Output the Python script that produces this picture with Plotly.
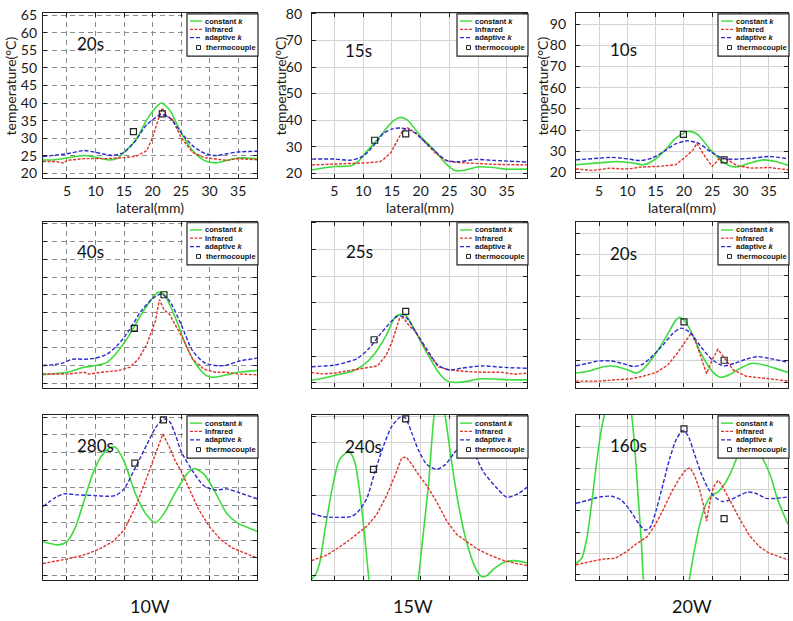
import plotly.graph_objects as go

W, H = 793, 621

# ---------------- data (lateral position mm, temperature degC) ----------------
# 10W, 20s
w10_t20_const_x = [0.8, 3, 5, 8, 10, 12.5, 14, 15, 17, 19, 21, 21.6, 23, 25, 27, 29, 31, 33, 35, 38.3]
w10_t20_const_y = [23.8, 23.9, 24.4, 25.1, 24.6, 23.8, 24.4, 26, 29.3, 35.3, 39.5, 40, 38, 31.6, 26.5, 23.7, 23, 23.7, 24.4, 24.2]
w10_t20_ir_x = [0.8, 3, 4.5, 5, 8, 12, 15, 17, 19, 20, 21, 21.7, 22.5, 23.5, 25, 27, 29, 31, 33, 35, 38.3]
w10_t20_ir_y = [23.4, 23.4, 22.9, 23.7, 24.2, 24.2, 24.5, 24.8, 26.5, 30.2, 35.3, 38.6, 36.2, 35.3, 30.2, 26, 24.5, 24.2, 23.7, 24.2, 23.9]
w10_t20_adapt_x = [0.8, 5, 8, 10, 13, 15, 17, 19, 21.5, 23, 25, 27, 29, 31, 33, 35, 38.3]
w10_t20_adapt_y = [24.8, 25.6, 26.5, 26, 25.1, 26, 29.3, 33.9, 36.7, 35.8, 31.6, 27.9, 25.8, 25.1, 25.6, 26.1, 26.3]
w10_t20_tc_x = [16.65, 21.7]
w10_t20_tc_y = [31.9, 36.9]

# 15W, 15s
w15_t15_const_x = [1.1, 5, 7.9, 9.3, 10.7, 12.2, 13.6, 15.1, 16.4, 17.7, 19.1, 20, 22.5, 24.5, 26.1, 27.6, 30.1, 32.7, 34.7, 38.5]
w15_t15_const_y = [21.2, 22.5, 22.8, 24.7, 28.4, 32, 35.7, 39.4, 41, 40, 36.4, 33.9, 28.3, 23.3, 20.9, 21.1, 22.4, 22.1, 21.5, 21.5]
w15_t15_ir_x = [1.1, 5, 7.9, 10.7, 12.9, 13.6, 14.8, 15.9, 16.8, 17.6, 18.3, 19.1, 20, 22.5, 24.5, 26.6, 29.6, 32.7, 38.5]
w15_t15_ir_y = [23.1, 23.4, 23.8, 23.9, 24.3, 25.3, 27.7, 32, 35.7, 37.2, 36.4, 35.1, 33.3, 27.7, 24.6, 24, 23.6, 23.3, 23.1]
w15_t15_adapt_x = [1.1, 5, 7.9, 9.5, 10.7, 12.2, 13.6, 15.1, 16.5, 17.9, 19.1, 20, 22.5, 24.5, 26.6, 29.6, 32.7, 38.5]
w15_t15_adapt_y = [25.3, 25.3, 24.9, 25.9, 27.7, 31.4, 35.1, 36.7, 37, 36.4, 35.1, 33.3, 28.3, 24.8, 24.3, 25.2, 24.8, 24.2]
w15_t15_tc_x = [12.0, 17.4]
w15_t15_tc_y = [32.4, 34.8]

# 20W, 10s
w20_t10_const_x = [0.9, 6, 8.1, 11.2, 12.8, 14.3, 16.4, 18.5, 20.6, 21.6, 22.6, 24.7, 26.8, 28.4, 29.9, 32, 34.1, 36.2, 38.4]
w20_t10_const_y = [23.6, 24.7, 25.1, 24.3, 23.6, 25.1, 29.8, 36, 39.3, 39.0, 37.5, 30.6, 25.1, 22.8, 22.8, 24.7, 25.9, 25.1, 23.3]
w20_t10_ir_x = [0.9, 3.9, 7, 9.1, 10.7, 12.2, 15.4, 18.5, 20, 21.6, 22.3, 23.7, 25, 26.3, 27.8, 29.4, 32, 35.1, 38.4]
w20_t10_ir_y = [21.6, 20.9, 22, 21.6, 21.8, 22.5, 22.8, 23.6, 26.7, 30.6, 33.7, 27.5, 22.8, 26.7, 25.9, 23.1, 22, 22.3, 21.2]
w20_t10_adapt_x = [0.9, 5, 7, 9.1, 12.2, 14.3, 16.4, 18.5, 20.6, 22.6, 24.7, 26.8, 28.9, 32, 35.1, 38.4]
w20_t10_adapt_y = [25.9, 26.7, 27.1, 26.7, 25.6, 26.7, 29.8, 33.4, 34.9, 33.7, 29.8, 26.7, 26.2, 26.7, 27.5, 26.4]
w20_t10_tc_x = [19.9, 27.1]
w20_t10_tc_y = [37.9, 25.9]

# 10W, 40s
w10_t40_const_x = [0.8, 5, 8, 10, 12, 14, 16, 18, 20, 21, 22, 24, 26, 28, 29.5, 31, 33, 35, 38.3]
w10_t40_const_y = [22.4, 23.1, 24.5, 25, 25.9, 29.2, 33.8, 39.4, 44.1, 45.7, 45.2, 38.5, 30.1, 24.5, 22.1, 21.7, 22.4, 23.1, 23.6]
w10_t40_ir_x = [0.8, 5, 8, 9, 11, 14, 16, 17.5, 19, 20.5, 21.2, 22, 23, 24, 25.5, 27, 29, 31, 33, 35, 38.3]
w10_t40_ir_y = [22.6, 22.6, 23.1, 22.6, 23.1, 23.6, 24.5, 26.8, 31, 37.6, 43.6, 40.8, 39.4, 36.6, 32, 26.8, 24, 23.1, 23.1, 22.6, 22.4]
w10_t40_adapt_x = [0.8, 4, 6, 8, 10, 12, 14, 16, 18, 20, 21.5, 23, 25, 27, 29, 31, 33, 35, 38.3]
w10_t40_adapt_y = [25, 25.6, 26.8, 26.8, 27.1, 28.2, 31, 35.2, 40.4, 43.9, 45.2, 43.2, 36.6, 29.2, 25.9, 25, 25.1, 26.2, 27.1]
w10_t40_tc_x = [16.8, 22.0]
w10_t40_tc_y = [35.5, 45.0]

# 15W, 25s
w15_t25_const_x = [1.0, 3, 5, 8, 10, 12, 14, 15.5, 16.5, 17.5, 19, 21, 23, 24.5, 26, 28, 30, 33, 35, 38.5]
w15_t25_const_y = [21, 21.8, 22.8, 24.3, 26.7, 31, 37.8, 44.5, 45.7, 45.1, 39.6, 31.6, 24.3, 20.9, 20.2, 20.6, 21.5, 21.5, 21.2, 21.2]
w15_t25_ir_x = [1.0, 3, 5, 8, 10, 12.5, 14, 15, 16.3, 17, 18, 19, 21, 23, 25, 28, 31, 34, 36.5, 38.5]
w15_t25_ir_y = [23.9, 23.4, 23.7, 24.9, 25.5, 26.4, 30.4, 35.3, 44.1, 44.5, 41.4, 39.6, 32.3, 26.1, 24.9, 24.3, 24, 24, 23.3, 23.7]
w15_t25_adapt_x = [1.0, 5, 7, 9, 11, 13, 15, 16, 17.5, 19, 21, 23, 25, 27, 29, 31, 34, 38.5]
w15_t25_adapt_y = [26.1, 26.7, 27.7, 29.2, 32.9, 38.4, 43.3, 45.1, 44.5, 39.6, 32.9, 26.7, 24.9, 25.5, 26.1, 26.4, 25.9, 25.5]
w15_t25_tc_x = [11.9, 17.4]
w15_t25_tc_y = [36.2, 46.8]

# 20W, 20s
w20_t20_const_x = [0.9, 3, 6, 8, 10, 11.5, 13, 15, 17, 18.5, 19.2, 20, 21, 23, 25, 26.5, 28, 30, 32, 34, 36, 38.4]
w20_t20_const_y = [24.3, 25.1, 27.4, 27.4, 25.8, 24.3, 26.6, 33.5, 42, 48.9, 50.5, 49.2, 45.1, 33.5, 25.1, 22.3, 23.5, 26.6, 28.9, 28.2, 26.6, 24.6]
w20_t20_ir_x = [0.9, 5, 8.1, 10.4, 12.8, 15.1, 17.2, 19, 20.4, 21.3, 22.2, 23.1, 24, 25, 26, 27.2, 28.7, 31, 34, 36.3, 38.4]
w20_t20_ir_y = [20.5, 20.5, 21.2, 21.5, 22.8, 24.6, 28.2, 34.3, 39.7, 43.1, 38.1, 30.5, 24, 30.5, 35.4, 31.2, 25.8, 22.8, 21.7, 21.2, 20.5]
w20_t20_adapt_x = [0.9, 3, 5, 7, 9, 11, 12.5, 14, 16, 18, 19.5, 21, 23, 25, 27, 29, 31, 33, 35, 38.4]
w20_t20_adapt_y = [27.7, 28.9, 30, 30, 28.9, 27.4, 28.2, 31.2, 36.6, 42.8, 45.4, 43.5, 36.6, 30.5, 27.7, 28.9, 30.8, 32, 31.2, 29.4]
w20_t20_tc_x = [20.0, 27.1]
w20_t20_tc_y = [48.3, 30.3]

# 10W, 280s
w10_t280_const_x = [0.8, 3.5, 5, 6.5, 8, 9.5, 11, 12.5, 13.5, 15, 17, 19, 20.5, 22, 24, 26, 27.3, 29, 31, 33, 35, 38.3]
w10_t280_const_y = [29.6, 28.7, 29.6, 33.8, 41.3, 48.8, 53.9, 56.3, 56.4, 52.5, 43.2, 37.1, 35, 37.6, 43.6, 48.8, 50.4, 48.8, 43.6, 37.6, 34.8, 32.6]
w10_t280_ir_x = [0.8, 3, 5, 7, 9, 11, 13, 15, 17, 19, 20.5, 21.8, 23, 24, 25, 26.5, 28, 30, 32, 34, 36, 38.3]
w10_t280_ir_y = [23.4, 24, 24.7, 25.4, 26.4, 27.8, 29.6, 32.9, 39.4, 47.9, 54.4, 60.2, 56.3, 52.5, 49.7, 44.1, 39, 33.8, 30.1, 27.8, 26.4, 25]
w10_t280_adapt_x = [0.8, 3, 4.5, 7, 10, 12, 13.5, 15, 17, 19, 20.5, 22, 23, 24, 25, 27, 29, 31, 33, 35, 38.3]
w10_t280_adapt_y = [39.6, 42.2, 43.2, 42.9, 42.7, 42.5, 42.7, 44.6, 50.7, 57.2, 61.9, 64.5, 63.7, 60, 55.3, 49.7, 45.5, 44.3, 44.6, 43.6, 41.8]
w10_t280_tc_x = [16.9, 21.9]
w10_t280_tc_y = [51.9, 64.2]

# 15W, 240s
w15_t240_const_x = [1.0, 1.8, 2.4, 3.5, 4.7, 5.9, 7.5, 8.5, 9.4, 10.3, 11, 12, 14, 16, 18, 19.6, 20.5, 21.4, 22.3, 23.3, 24.3, 25.5, 26.6, 27.8, 29, 29.9, 30.7, 31.6, 32.8, 34.5, 36.3, 38.5]
w15_t240_const_y = [18.4, 20.6, 24.3, 39, 53.7, 63.6, 66.6, 63, 51.3, 34.1, 18.2, 0, -15, -20, -5, 18.8, 36.6, 55, 79.5, 92, 79.5, 61, 46.4, 34.1, 25.5, 21.2, 19.4, 20, 22.5, 24.9, 25.5, 24.7]
w15_t240_ir_x = [1.0, 3.5, 5.3, 7, 8.8, 10.6, 12.3, 14.1, 15.5, 16.7, 17.5, 18.5, 19.6, 21.1, 22.8, 24.6, 26.3, 28.1, 29.9, 32.2, 34.5, 36.9, 38.5]
w15_t240_ir_y = [25.5, 27.4, 29.8, 32.3, 35.3, 38.4, 42.7, 50.1, 57.4, 64.2, 64.5, 61.7, 58, 53.7, 47.6, 40.2, 35.3, 32.5, 29.8, 27.4, 25.5, 24.3, 23.7]
w15_t240_adapt_x = [1.0, 3, 5.3, 7.9, 9.1, 10.6, 12, 13.5, 14.9, 16.4, 17.3, 18.5, 19.6, 21.1, 22.8, 24.3, 25.8, 26.9, 28.2, 29.5, 31, 33.4, 35, 36.9, 38.5]
w15_t240_adapt_y = [43.3, 42.1, 41.8, 42.1, 43.9, 48.8, 58.7, 68.5, 75.8, 79.5, 79.3, 73.4, 67.2, 61.7, 59.9, 61.7, 66, 68.5, 69, 65, 58.7, 52.5, 49.4, 50.7, 53.1]
w15_t240_tc_x = [11.8, 17.4]
w15_t240_tc_y = [59.9, 78.9]

# 20W, 160s
w20_t160_const_x = [0.9, 1.9, 2.8, 3.6, 4.5, 5.4, 6, 7, 8.5, 10, 10.7, 11.3, 11.9, 12.5, 12.8, 14, 16, 18, 20, 21, 21.9, 22.8, 23.7, 24.9, 26, 27.2, 28.4, 29.6, 31.5, 33.7, 35.2, 36.6, 38.4]
w20_t160_const_y = [25.3, 27.6, 36.8, 52, 72, 88.7, 96, 105, 108, 104, 96, 79.5, 56.6, 33.7, 18.5, -5, -20, -15, 0, 18.5, 32.2, 43.7, 52, 57.4, 58.9, 62.7, 68.9, 76.5, 84, 75.7, 67.3, 55.1, 43.7]
w20_t160_ir_x = [0.9, 3.4, 5.7, 7.8, 9.8, 11.6, 13.4, 14.8, 16.3, 17.8, 19.3, 20.4, 21.1, 21.9, 22.8, 23.5, 24, 24.6, 25.2, 26, 26.6, 28.1, 29.9, 31.6, 33.4, 35.2, 36.9, 38.4]
w20_t160_ir_y = [24.6, 26.1, 27.3, 27.6, 30.7, 34.5, 37.6, 42.9, 50.5, 58.9, 65.8, 69.6, 70.4, 66.6, 59.7, 52.1, 45.2, 54.4, 61.2, 64.3, 62.7, 55.1, 46, 38.3, 33, 29.9, 28.4, 26.9]
w20_t160_adapt_x = [0.9, 3.1, 5.1, 7.2, 8.9, 10.4, 11.9, 13.1, 14, 15.1, 16.3, 17.5, 18.7, 19.8, 20.7, 21.9, 23.1, 24.3, 25.4, 26.9, 28.1, 29.9, 31.3, 32.8, 34.6, 36.3, 38.4]
w20_t160_adapt_y = [53.6, 55.1, 56.6, 56.9, 55.1, 50.5, 44.4, 40.9, 42.1, 50.5, 62.7, 75, 84.1, 87.9, 85.6, 76.5, 67.3, 60.5, 56.6, 54.4, 55.1, 57.4, 58.9, 58.2, 55.9, 55.9, 56.6]
w20_t160_tc_x = [20.0, 27.1]
w20_t160_tc_y = [88.7, 46.4]

time_labels = ["20s", "15s", "10s", "40s", "25s", "20s", "280s", "240s", "160s"]
power_labels = ["10W", "15W", "20W"]
legend_labels = ["constant <i>k</i>", "Infrared", "adaptive <i>k</i>", "thermocouple"]
x_ticks = [5, 10, 15, 20, 25, 30, 35]
y_ticks_cols = [[20, 25, 30, 35, 40, 45, 50, 55, 60, 65],
                [20, 30, 40, 50, 60, 70, 80],
                [20, 30, 40, 50, 60, 70, 80, 90]]

panels = [
    (w10_t20_const_x, w10_t20_const_y, w10_t20_ir_x, w10_t20_ir_y, w10_t20_adapt_x, w10_t20_adapt_y, w10_t20_tc_x, w10_t20_tc_y),
    (w15_t15_const_x, w15_t15_const_y, w15_t15_ir_x, w15_t15_ir_y, w15_t15_adapt_x, w15_t15_adapt_y, w15_t15_tc_x, w15_t15_tc_y),
    (w20_t10_const_x, w20_t10_const_y, w20_t10_ir_x, w20_t10_ir_y, w20_t10_adapt_x, w20_t10_adapt_y, w20_t10_tc_x, w20_t10_tc_y),
    (w10_t40_const_x, w10_t40_const_y, w10_t40_ir_x, w10_t40_ir_y, w10_t40_adapt_x, w10_t40_adapt_y, w10_t40_tc_x, w10_t40_tc_y),
    (w15_t25_const_x, w15_t25_const_y, w15_t25_ir_x, w15_t25_ir_y, w15_t25_adapt_x, w15_t25_adapt_y, w15_t25_tc_x, w15_t25_tc_y),
    (w20_t20_const_x, w20_t20_const_y, w20_t20_ir_x, w20_t20_ir_y, w20_t20_adapt_x, w20_t20_adapt_y, w20_t20_tc_x, w20_t20_tc_y),
    (w10_t280_const_x, w10_t280_const_y, w10_t280_ir_x, w10_t280_ir_y, w10_t280_adapt_x, w10_t280_adapt_y, w10_t280_tc_x, w10_t280_tc_y),
    (w15_t240_const_x, w15_t240_const_y, w15_t240_ir_x, w15_t240_ir_y, w15_t240_adapt_x, w15_t240_adapt_y, w15_t240_tc_x, w15_t240_tc_y),
    (w20_t160_const_x, w20_t160_const_y, w20_t160_ir_x, w20_t160_ir_y, w20_t160_adapt_x, w20_t160_adapt_y, w20_t160_tc_x, w20_t160_tc_y),
]

# ---------------- layout constants (pixels) ----------------
COL_PX = [(43, 257), (312, 527), (576, 788)]
ROW_PX = [(5, 173), (218, 387), (415, 583)]
X_RANGES = [[0.8, 38.3], [1.1, 38.5], [0.9, 38.4]]
Y_RANGES = [[18.8, 65.6], [18.3, 80.4], [17.5, 95.3]]
TIME_POS = [(75, 36), (343, 43), (608, 42), (75, 248), (344, 248), (608, 250), (75, 446), (343, 447), (608, 446)]
POWER_POS = [(150, 610), (413, 610), (692, 610)]
YTITLE_X = [10, 280, 542]

GREEN = "#3ddc3d"
RED = "#e0342c"
BLUE = "#2a2ad0"
FRAME = "#222222"
FONT = "Lato, 'Open Sans', sans-serif"


def px(x):
    return x / W


def py(y):
    return 1 - y / H


fig = go.Figure()
layout = dict(width=W, height=H, margin=dict(l=0, r=0, t=0, b=0),
              paper_bgcolor="white", plot_bgcolor="white", showlegend=False)
shapes = []
annotations = []

for k, data in enumerate(panels):
    r, c = divmod(k, 3)
    idx = k + 1
    xname = "xaxis" if idx == 1 else f"xaxis{idx}"
    yname = "yaxis" if idx == 1 else f"yaxis{idx}"
    xref = "x" if idx == 1 else f"x{idx}"
    yref = "y" if idx == 1 else f"y{idx}"
    gx, gy, rx, ry, bx, by, tx, ty = data

    fig.add_trace(go.Scatter(x=gx, y=gy, mode="lines", xaxis=xref, yaxis=yref,
                             line=dict(color=GREEN, width=1.6, shape="spline", smoothing=0.7)))
    fig.add_trace(go.Scatter(x=rx, y=ry, mode="lines", xaxis=xref, yaxis=yref,
                             line=dict(color=RED, width=1.4, dash="3px,1.5px")))
    fig.add_trace(go.Scatter(x=bx, y=by, mode="lines", xaxis=xref, yaxis=yref,
                             line=dict(color=BLUE, width=1.4, dash="4px,2px", shape="spline", smoothing=0.7)))
    fig.add_trace(go.Scatter(x=tx, y=ty, mode="markers", xaxis=xref, yaxis=yref, cliponaxis=False,
                             marker=dict(symbol="square-open", size=6, color=FRAME, line=dict(width=1.2, color=FRAME))))

    c0, c1 = COL_PX[c]
    r0, r1 = ROW_PX[r]
    if c == 0:
        grid = dict(gridcolor="#8c8c8c", griddash="5px,4px", gridwidth=0.8)
    else:
        grid = dict(gridcolor="#d4d4d4", griddash="solid", gridwidth=1)
    common = dict(showline=True, linecolor=FRAME, linewidth=1.3, mirror="ticks",
                  ticks="inside", ticklen=4, tickcolor=FRAME, showgrid=True, zeroline=False,
                  ticklabeloverflow="allow",
                  tickfont=dict(family=FONT, size=14, color="#1a1a1a"), **grid)
    layout[xname] = dict(domain=[px(c0), px(c1)], range=X_RANGES[c], tickvals=x_ticks,
                         showticklabels=(r == 0), anchor=yref, ticklabelstandoff=0, **common)
    layout[yname] = dict(domain=[py(r1), py(r0)], range=Y_RANGES[c], tickvals=y_ticks_cols[c],
                         showticklabels=(r == 0), anchor=xref, ticklabelstandoff=2 if c == 0 else 6, **common)

    # time label
    tx0, ty0 = TIME_POS[k]
    annotations.append(dict(x=px(tx0), y=py(ty0), xref="paper", yref="paper", text=time_labels[k],
                            showarrow=False, xanchor="left", yanchor="middle",
                            font=dict(family=FONT, size=17, color="#111")))

    # legend box (decoration)
    right = c1 + 1
    top = r0 + 1
    left = right - 71
    bottom = top + 43
    shapes.append(dict(type="rect", xref="paper", yref="paper", x0=px(left), x1=px(right),
                       y0=py(bottom), y1=py(top), line=dict(color=FRAME, width=1.2),
                       fillcolor="white", layer="above"))
    offs = [7.3, 15.7, 24.3, 34.3]
    styles = [(GREEN, "solid", 1.4), (RED, "3px,1.5px", 1.3), (BLUE, "4px,2px", 1.3)]
    for i in range(3):
        col, dash, wd = styles[i]
        yy = top + offs[i]
        shapes.append(dict(type="line", xref="paper", yref="paper", x0=px(left + 3), x1=px(left + 15),
                           y0=py(yy), y1=py(yy), line=dict(color=col, width=wd, dash=dash), layer="above"))
    yy = top + offs[3]
    shapes.append(dict(type="rect", xref="paper", yref="paper", x0=px(left + 9.5), x1=px(left + 13.5),
                       y0=py(yy + 2), y1=py(yy - 2), line=dict(color=FRAME, width=1), layer="above"))
    for i in range(4):
        xx = left + (15.5 if i < 3 else 16.5)
        annotations.append(dict(x=px(xx), y=py(top + offs[i]), xref="paper", yref="paper",
                                text=f"<b>{legend_labels[i]}</b>", showarrow=False,
                                xanchor="left", yanchor="middle",
                                font=dict(family="Liberation Sans, Arial, sans-serif", size=7.5, color="#111")))

# axis titles
for c in range(3):
    c0, c1 = COL_PX[c]
    annotations.append(dict(x=px(YTITLE_X[c]), y=py(80), xref="paper", yref="paper",
                            text="temperature(\u00b0C)", textangle=-90, showarrow=False,
                            xanchor="center", yanchor="middle",
                            font=dict(family=FONT, size=14, color="#1a1a1a")))
    annotations.append(dict(x=px((c0 + c1) / 2), y=py(203), xref="paper", yref="paper",
                            text="lateral(mm)", showarrow=False, xanchor="center", yanchor="middle",
                            font=dict(family=FONT, size=14, color="#1a1a1a")))
    bx0, by0 = POWER_POS[c]
    annotations.append(dict(x=px(bx0), y=py(by0), xref="paper", yref="paper",
                            text=power_labels[c], showarrow=False, xanchor="center", yanchor="middle",
                            font=dict(family=FONT, size=18, color="#111")))

layout["shapes"] = shapes
layout["annotations"] = annotations
fig.update_layout(**layout)
fig.write_html("out.html", config={"displayModeBar": False},
               post_script="document.body.style.margin='0';document.body.style.padding='0';")
